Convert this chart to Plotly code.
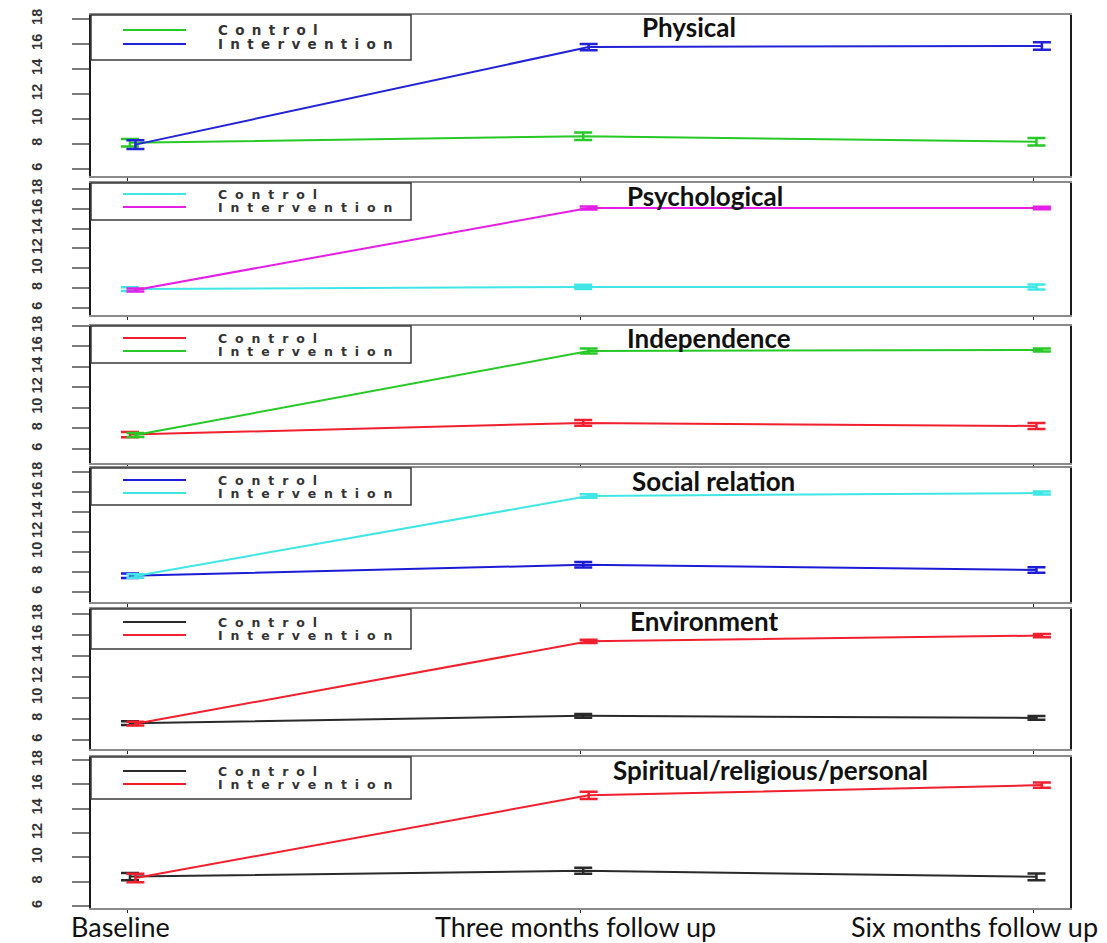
import plotly.graph_objects as go

# Categories and series
timepoints = ["Baseline", "Three months follow up", "Six months follow up"]
groups = ["Control", "Intervention"]
domains = ["Physical", "Psychological", "Independence", "Social relation",
           "Environment", "Spiritual/religious/personal"]

control_mean = [
    [8.10, 8.62, 8.18],
    [7.90, 8.12, 8.12],
    [7.40, 8.54, 8.24],
    [7.62, 8.72, 8.20],
    [7.60, 8.30, 8.10],
    [8.42, 8.90, 8.40],
]
control_err = [
    [0.30, 0.30, 0.30],
    [0.20, 0.22, 0.25],
    [0.25, 0.28, 0.30],
    [0.22, 0.28, 0.28],
    [0.18, 0.18, 0.18],
    [0.30, 0.25, 0.28],
]
intervention_mean = [
    [7.95, 15.76, 15.84],
    [7.82, 16.08, 16.08],
    [7.36, 15.56, 15.66],
    [7.60, 15.60, 15.90],
    [7.55, 15.40, 15.95],
    [8.30, 15.10, 15.94],
]
intervention_err = [
    [0.35, 0.25, 0.30],
    [0.15, 0.15, 0.12],
    [0.20, 0.25, 0.15],
    [0.18, 0.18, 0.15],
    [0.18, 0.15, 0.15],
    [0.35, 0.30, 0.22],
]
y_ticks = [6, 8, 10, 12, 14, 16, 18]

control_color = ["#26c926", "#40e6e6", "#f0202e", "#1c1cd6", "#2a2a2a", "#2a2a2a"]
intervention_color = ["#2222d6", "#e41ee4", "#26c926", "#40e6e6", "#f0202e", "#f0202e"]

# Page geometry in pixels
W, H = 1107, 943
PLOT_L, PLOT_R = 91, 1070
panel_px = [(15, 176), (183, 315), (326, 463), (468, 602), (609, 749), (757, 908)]
y_ranges = [(5.44, 18.32), (5.29, 18.6), (4.63, 18.0), (5.0, 18.4), (5.14, 18.48), (5.84, 18.25)]
legend_box_h = [45, 37, 37, 37, 40, 42]
legend_rows = [(15, 29), (11, 24), (12, 25), (12, 25), (13, 26), (14, 27)]
title_left = [640, 625, 625, 630, 628, 611]
title_mid = [12, 13, 12, 13, 12, 13]
x_pos = [1, 2, 3]
dodge = {"Control": 0.006, "Intervention": 0.018}


def fx(px):
    """pixel column -> fraction of the panel width"""
    return (px - PLOT_L) / (PLOT_R - PLOT_L)


fig = go.Figure()
shapes, annotations = [], []
xdom = [PLOT_L / W, PLOT_R / W]

for i, name in enumerate(domains):
    k = "" if i == 0 else str(i + 1)
    top, bot = panel_px[i]
    ph = bot - top
    series = [
        ("Control", control_mean[i], control_err[i], control_color[i]),
        ("Intervention", intervention_mean[i], intervention_err[i], intervention_color[i]),
    ]
    for g, mean, err, col in series:
        fig.add_trace(go.Scatter(
            x=[p + dodge[g] for p in x_pos], y=mean, name=g, mode="lines",
            line=dict(color=col, width=2),
            error_y=dict(type="data", array=err, color=col, thickness=2.5, width=9),
            xaxis="x" + k, yaxis="y" + k, showlegend=False,
        ))

    fig.layout["xaxis" + k] = dict(
        domain=xdom, range=[0.92, 3.08], anchor="y" + k, automargin=False,
        tickvals=x_pos, showticklabels=False, ticks="outside", ticklen=3,
        tickcolor="#222", showgrid=False, zeroline=False,
        showline=True, mirror=True, linecolor="#8a8a8a", linewidth=1.5,
    )
    fig.layout["yaxis" + k] = dict(
        domain=[1 - bot / H, 1 - top / H], range=list(y_ranges[i]), anchor="x" + k,
        automargin=False,
        tickvals=y_ticks, ticks="outside", ticklen=17, tickcolor="#7a7a7a", tickwidth=1.5,
        tickangle=-90, ticklabelstandoff=24,
        tickfont=dict(family="Liberation Sans", size=14.5, color="#333", weight="bold"),
        showgrid=False, zeroline=False,
        showline=True, mirror=True, linecolor="#1a1a1a", linewidth=2,
    )

    xr, yr = "x" + k + " domain", "y" + k + " domain"
    # legend frame and key lines
    shapes.append(dict(type="rect", xref=xr, yref=yr, x0=0, x1=fx(411),
                       y0=1 - legend_box_h[i] / ph, y1=1,
                       line=dict(color="#3a3a3a", width=1.5), fillcolor="rgba(0,0,0,0)"))
    for (g, _, _, col), row in zip(series, legend_rows[i]):
        yy = 1 - row / ph
        shapes.append(dict(type="line", xref=xr, yref=yr, x0=fx(123), x1=fx(186),
                           y0=yy, y1=yy, line=dict(color=col, width=2)))
    # legend labels as one two-line block
    r0, r1 = legend_rows[i]
    gap = r1 - r0
    fs = gap - 0.5
    spacing = (178 - 7.0 * fs) / 11.5
    label = "<br>".join(
        '<span style="font-size:%.1fpx;letter-spacing:%.1fpx">%s</span>' % (fs, spacing, g)
        for g, *_ in series
    )
    annotations.append(dict(
        xref=xr, yref=yr, x=fx(216), y=1 - (r0 + r1) / 2 / ph,
        xanchor="left", yanchor="middle", showarrow=False, text=label, align="left",
        font=dict(family="DejaVu Sans", size=gap / 1.3, color="#333", weight="bold"),
    ))
    # panel title
    annotations.append(dict(
        xref=xr, yref=yr, x=fx(title_left[i]), y=1 - title_mid[i] / ph,
        xanchor="left", yanchor="middle", showarrow=False,
        text="<b>%s</b>" % name,
        font=dict(family="Lato", size=26, color="#111", weight=900),
    ))

# time point labels under the bottom panel
last = str(len(domains))
shifts = [-7, -5, 0]
for j, t in enumerate(timepoints):
    ann = dict(xref="x" + last, yref="paper", x=x_pos[j], y=1 - 926 / H,
               xanchor="center", yanchor="middle", showarrow=False, text=t,
               xshift=shifts[j], font=dict(family="Lato", size=27, color="#111"))
    if j == len(timepoints) - 1:
        ann.update(xref="paper", x=1100 / W, xanchor="right")
    annotations.append(ann)

fig.update_layout(
    template="none",
    width=W, height=H, margin=dict(l=0, r=0, t=0, b=0, autoexpand=False),
    paper_bgcolor="white", plot_bgcolor="white",
    shapes=shapes, annotations=annotations, showlegend=False,
)

fig.write_html("out.html")
